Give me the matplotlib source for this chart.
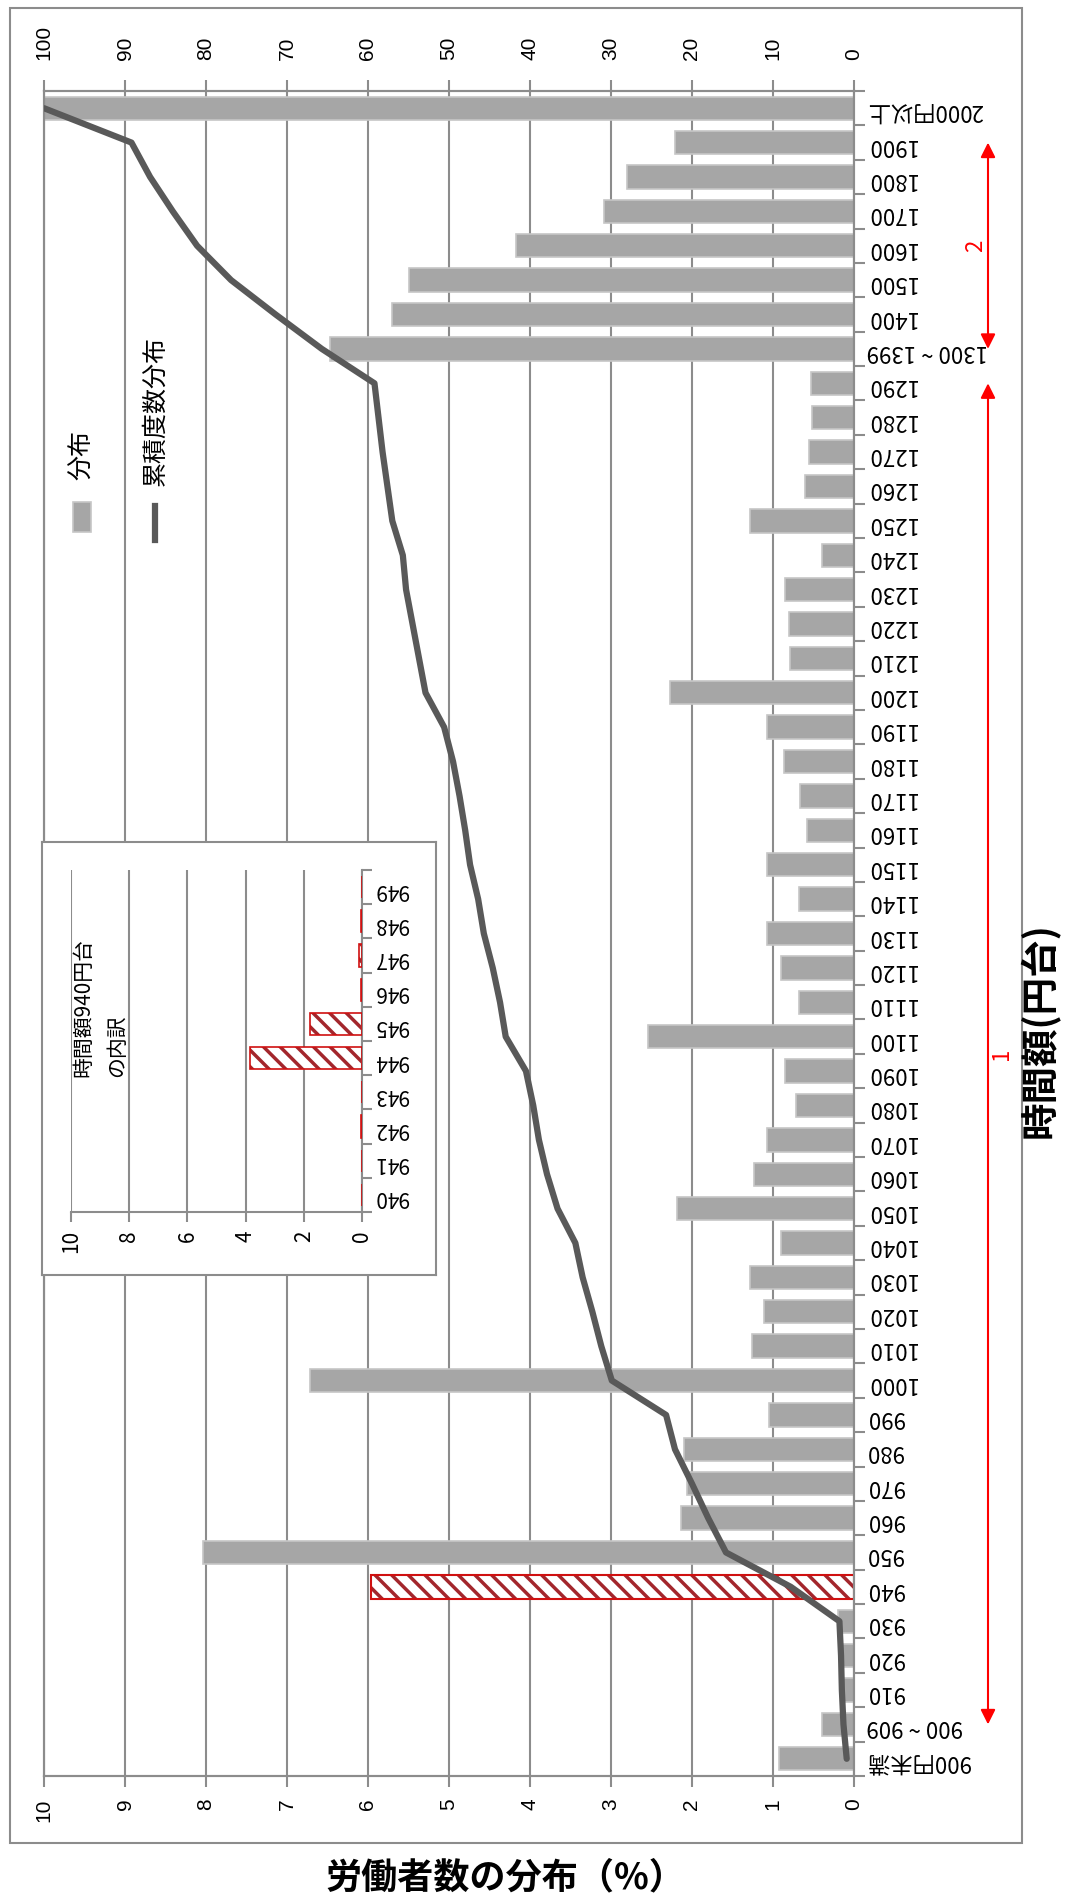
import numpy as np
import matplotlib
matplotlib.use('Agg')
from matplotlib import pyplot as plt
from matplotlib.patches import Rectangle
import matplotlib.transforms as mtransforms

plt.rcParams['font.family'] = ['Noto Sans CJK JP', 'DejaVu Sans']
plt.rcParams['hatch.linewidth'] = 2.5

# categories (hourly wage, yen)
categories = ['900円未満', '900 ~ 909', '910', '920', '930', '940', '950', '960', '970', '980',
              '990', '1000', '1010', '1020', '1030', '1040', '1050', '1060', '1070', '1080',
              '1090', '1100', '1110', '1120', '1130', '1140', '1150', '1160', '1170', '1180',
              '1190', '1200', '1210', '1220', '1230', '1240', '1250', '1260', '1270', '1280',
              '1290', '1300 ~ 1399', '1400', '1500', '1600', '1700', '1800', '1900', '2000円以上']

# distribution (%)
dist = [0.92, 0.40, 0.15, 0.15, 0.20, 5.96, 8.04, 2.14, 2.06, 2.10,
        1.05, 6.72, 1.26, 1.11, 1.28, 0.90, 2.18, 1.23, 1.07, 0.71,
        0.85, 2.54, 0.68, 0.90, 1.07, 0.68, 1.08, 0.58, 0.67, 0.86,
        1.08, 2.27, 0.79, 0.80, 0.85, 0.39, 1.28, 0.61, 0.55, 0.52,
        0.53, 6.47, 5.70, 5.50, 4.17, 3.09, 2.80, 2.21, 10.85]

# cumulative distribution (%)
cumul = [0.9, 1.3, 1.5, 1.6, 1.8, 7.8, 15.8, 18.0, 20.0, 22.1,
         23.2, 29.9, 31.2, 32.3, 33.5, 34.4, 36.6, 37.9, 38.9, 39.6,
         40.5, 43.0, 43.7, 44.6, 45.7, 46.4, 47.4, 48.0, 48.7, 49.5,
         50.6, 52.9, 53.7, 54.5, 55.3, 55.7, 57.0, 57.6, 58.2, 58.7,
         59.2, 65.7, 71.4, 76.9, 81.1, 84.1, 86.9, 89.2, 100.0]

# breakdown of the 940 yen bin
inset_cats = ['940', '941', '942', '943', '944', '945', '946', '947', '948', '949']
inset_vals = [0.0, 0.0, 0.05, 0.0, 3.85, 1.80, 0.05, 0.10, 0.05, 0.0]

groups = [(1, 40, '1'), (41, 47, '2')]

W, H = 1073, 1896
fig = plt.figure(figsize=(W / 100, H / 100), dpi=100)


def fx(px):
    return px / W


def fy(py):
    return 1 - py / H


bar_c = '#a6a6a6'
grid_c = '#8c8c8c'
line_c = '#595959'
hatch_c = '#a3262c'
red_c = '#d01010'
num_font = 'Liberation Sans'

# outer frame
fig.patches.append(Rectangle((fx(10), fy(1843)), fx(1022) - fx(10), fy(8) - fy(1843),
                             transform=fig.transFigure, fill=False, edgecolor=grid_c, lw=1.5, zorder=0))

ax = fig.add_axes([fx(44), fy(1776), fx(854) - fx(44), fy(91) - fy(1776)])
pos = np.arange(len(categories))
bars = ax.barh(pos, dist, height=0.68, color=bar_c, edgecolor='#c6c6c6', linewidth=1.2, zorder=2)
i940 = categories.index('940')
bars[i940].set_facecolor('white')
bars[i940].set_edgecolor(hatch_c)
bars[i940].set_hatch('\\\\')
bars[i940].set_linewidth(0)
ax.barh([pos[i940]], [dist[i940]], height=0.68, fill=False, edgecolor=red_c, linewidth=1.5, zorder=3)

ax.set_xlim(10, 0)
ax.set_ylim(-0.5, len(categories) - 0.5)
ax.set_xticks(range(0, 11))
ax.set_xticklabels([str(v) for v in range(0, 11)], rotation=90, fontfamily=num_font, fontsize=15)
ax.tick_params(axis='x', direction='out', length=8, width=1.5, color=grid_c, pad=8)
ax.xaxis.grid(True, color=grid_c, lw=1.5)
ax.set_axisbelow(True)

ax.yaxis.tick_right()
ax.set_yticks(pos)
ax.set_yticklabels(categories, rotation=180, fontsize=16)
ax.set_yticks(np.arange(-0.5, len(categories), 1.0), minor=True)
ax.tick_params(axis='y', which='major', length=0, pad=9)
ax.tick_params(axis='y', which='minor', direction='out', length=8, width=1.5, color=grid_c)
for s in ax.spines.values():
    s.set_color(grid_c)
    s.set_linewidth(1.5)

ax2 = ax.twiny()
ax2.plot(cumul, pos, color=line_c, lw=4.5, solid_joinstyle='round', solid_capstyle='round', zorder=4)
ax2.set_xlim(100, 0)
ax2.set_xticks(range(0, 101, 10))
ax2.set_xticklabels([str(v) for v in range(0, 101, 10)], rotation=90, fontfamily=num_font, fontsize=15)
ax2.tick_params(axis='x', direction='out', length=8, width=1.5, color=grid_c, pad=14)
for s in ax2.spines.values():
    s.set_color(grid_c)
    s.set_linewidth(1.5)

# legend (drawn rotated)
fig.patches.append(Rectangle((fx(73), fy(532)), fx(91) - fx(73), fy(502) - fy(532),
                             transform=fig.transFigure, facecolor=bar_c, edgecolor='#c6c6c6', lw=1.2, zorder=2))
fig.lines.append(plt.Line2D([fx(155), fx(155)], [fy(540), fy(506)], transform=fig.transFigure,
                            color=line_c, lw=4.5, zorder=2))
fig.text(fx(82), fy(480), '分布', rotation=90, rotation_mode='anchor', ha='left', va='center', fontsize=18)
fig.text(fx(155), fy(486), '累積度数分布', rotation=90, rotation_mode='anchor', ha='left', va='center', fontsize=18)

# group arrows
blend = mtransforms.blended_transform_factory(fig.transFigure, ax.transData)
arrow_x = fx(988)
for (a, b, lab), lx in zip(groups, [fx(1002), fx(976)]):
    ax.annotate('', xy=(arrow_x, a), xytext=(arrow_x, b), xycoords=blend, textcoords=blend,
                arrowprops=dict(arrowstyle='<|-|>', color='red', lw=1.5, mutation_scale=22,
                                shrinkA=0, shrinkB=0), annotation_clip=False)
    ax.text(lx, (a + b) / 2, lab, transform=blend, color='red', rotation=90, ha='center', va='center',
            fontsize=16)

fig.text(fx(1040), fy(1030), '時間額(円台)', rotation=90, ha='center', va='center',
         fontsize=27, fontweight='bold')
fig.text(fx(505), fy(1878), '労働者数の分布（%）', ha='center', va='center', fontsize=26, fontweight='bold')

# inset: breakdown of 940 yen
box = fig.add_axes([fx(42), fy(1275), fx(436) - fx(42), fy(842) - fy(1275)])
box.set_xticks([])
box.set_yticks([])
for s in box.spines.values():
    s.set_color(grid_c)
    s.set_linewidth(1.5)
box.set_zorder(3)

axi = fig.add_axes([fx(71), fy(1212), fx(362) - fx(71), fy(870) - fy(1212)])
axi.set_zorder(4)
axi.patch.set_alpha(0)
ipos = np.arange(len(inset_cats))
axi.barh(ipos, inset_vals, height=0.65, facecolor='white', edgecolor=hatch_c, hatch='\\\\', linewidth=0, zorder=2)
axi.barh(ipos, inset_vals, height=0.65, fill=False, edgecolor=red_c, linewidth=1.2, zorder=3)
axi.set_xlim(10, 0)
axi.set_ylim(-0.5, len(inset_cats) - 0.5)
axi.set_xticks(range(0, 11, 2))
axi.set_xticklabels([str(v) for v in range(0, 11, 2)], rotation=90, fontsize=15)
axi.tick_params(axis='x', direction='out', length=7, width=1.5, color=grid_c, pad=6)
axi.xaxis.grid(True, color=grid_c, lw=1.5)
axi.set_axisbelow(True)
axi.yaxis.tick_right()
axi.set_yticks(ipos)
axi.set_yticklabels(inset_cats, rotation=180, fontsize=15)
axi.set_yticks(np.arange(-0.5, len(inset_cats), 1.0), minor=True)
axi.tick_params(axis='y', which='major', length=0, pad=9)
axi.tick_params(axis='y', which='minor', direction='out', length=7, width=1.5, color=grid_c)
axi.spines['top'].set_visible(False)
axi.spines['left'].set_visible(False)
for s in ['right', 'bottom']:
    axi.spines[s].set_color(grid_c)
    axi.spines[s].set_linewidth(1.5)

fig.text(fx(72), fy(1077), '時間額940円台\nの内訳', rotation=90, rotation_mode='anchor',
         ha='left', va='top', fontsize=15, linespacing=1.7, zorder=5)

fig.savefig('out.png', dpi=100)
